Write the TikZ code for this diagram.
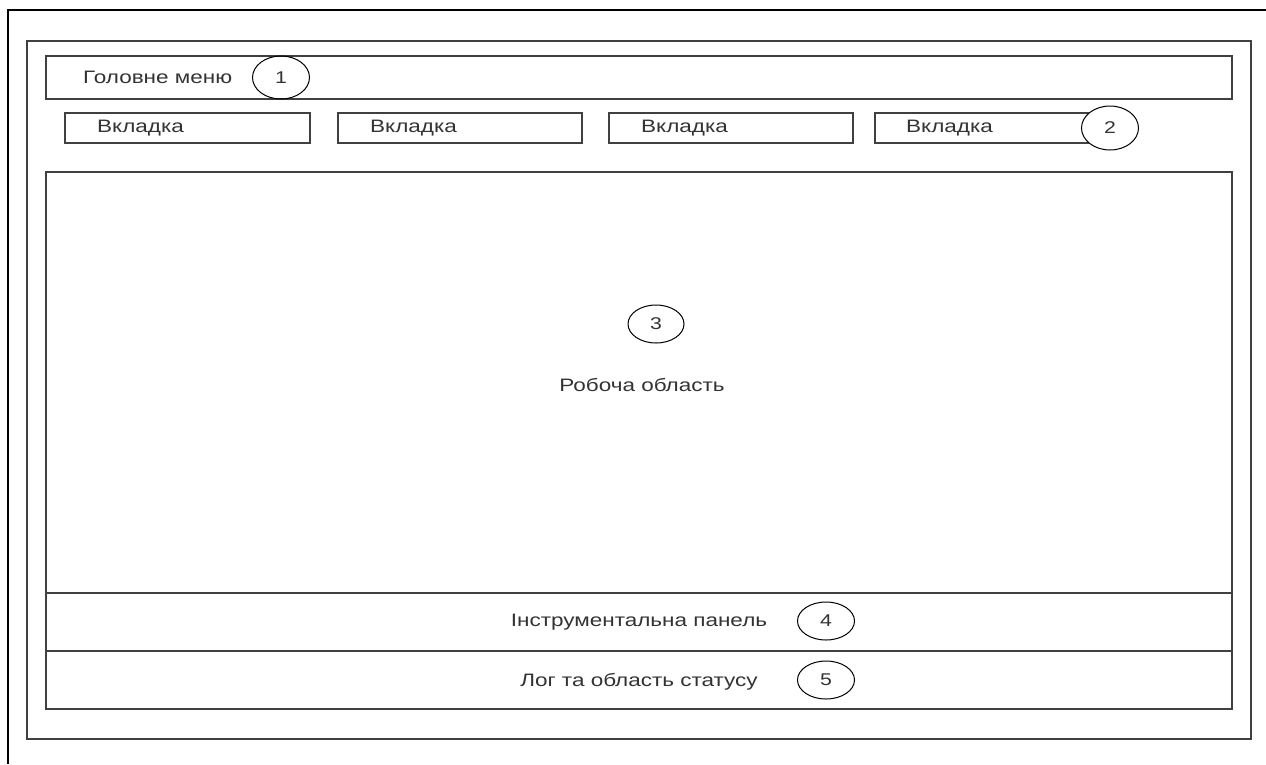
\documentclass[tikz,border=0pt]{standalone}
\usepackage{fontspec}
\setmainfont{Liberation Sans}
\usetikzlibrary{shapes.geometric}
\newcommand{\wide}[1]{\scalebox{1.25}[1]{#1}}
\begin{document}
\begin{tikzpicture}[x=1pt,y=-1pt,
  frame/.style={draw=black!75,line width=1.3pt},
  box/.style={draw=black!75,line width=1.3pt,minimum height=30pt,inner sep=0pt},
  lbl/.style={text=black!80,font=\fontsize{18}{20}\selectfont,inner sep=0pt},
  num/.style={ellipse,draw=black,line width=1pt,minimum width=57pt,inner sep=0pt,text=black!80,font=\fontsize{17}{19}\selectfont}]
\useasboundingbox (0,0) rectangle (1266,764);
\fill[white] (0,0) rectangle (1266,764);
% outer frame
\coordinate (ob) at (8,764);
\coordinate (ot) at (8,10);
\coordinate (or) at (1266,10);
\draw[black,line width=2.2pt] (ob) -- (ot) -- (or);
% inner frame
\node[frame,minimum width=1224pt,minimum height=698pt,inner sep=0pt] (win) at (639,390) {};
% main menu
\node[frame,minimum width=1186pt,minimum height=43pt,inner sep=0pt] (menu) at (639,77.5) {};
\node[lbl,anchor=west] (menut) at (83,77) {\wide{Головне меню}};
\node[num,minimum height=43pt] (c1) at (281,77.5) {\wide{1}};
% tabs
\node[box,minimum width=245pt] (t1) at (187.5,128) {};
\node[box,minimum width=244pt] (t2) at (460,128) {};
\node[box,minimum width=244pt] (t3) at (731,128) {};
\node[box,minimum width=213pt] (t4) at (981.5,128) {};
\node[lbl,anchor=west] (t1l) at (97,128) {\wide{Вкладка}};
\node[lbl,anchor=west] (t2l) at (370,128) {\wide{Вкладка}};
\node[lbl,anchor=west] (t3l) at (641,128) {\wide{Вкладка}};
\node[lbl,anchor=west] (t4l) at (906,128) {\wide{Вкладка}};
\node[num,minimum height=44pt,fill=white] (c2) at (1110,128) {\wide{2}};
% work area
\node[frame,minimum width=1186pt,minimum height=421pt,inner sep=0pt] (work) at (639,382.5) {};
\node[num,minimum width=56pt,minimum height=38pt] (c3) at (656,324) {\wide{3}};
\node[lbl] (workl) at (642,385) {\wide{Робоча область}};
% toolbar
\node[frame,minimum width=1186pt,minimum height=58pt,inner sep=0pt] (tool) at (639,622) {};
\node[lbl] (tooll) at (639,622) {\wide{Інструментальна панель}};
\node[num,minimum height=38pt] (c4) at (826,621) {\wide{4}};
% log
\node[frame,minimum width=1186pt,minimum height=58pt,inner sep=0pt] (log) at (639,680) {};
\node[lbl] (logl) at (639,682) {\wide{Лог та область статусу}};
\node[num,minimum height=38pt] (c5) at (826,680) {\wide{5}};
\end{tikzpicture}
\end{document}
